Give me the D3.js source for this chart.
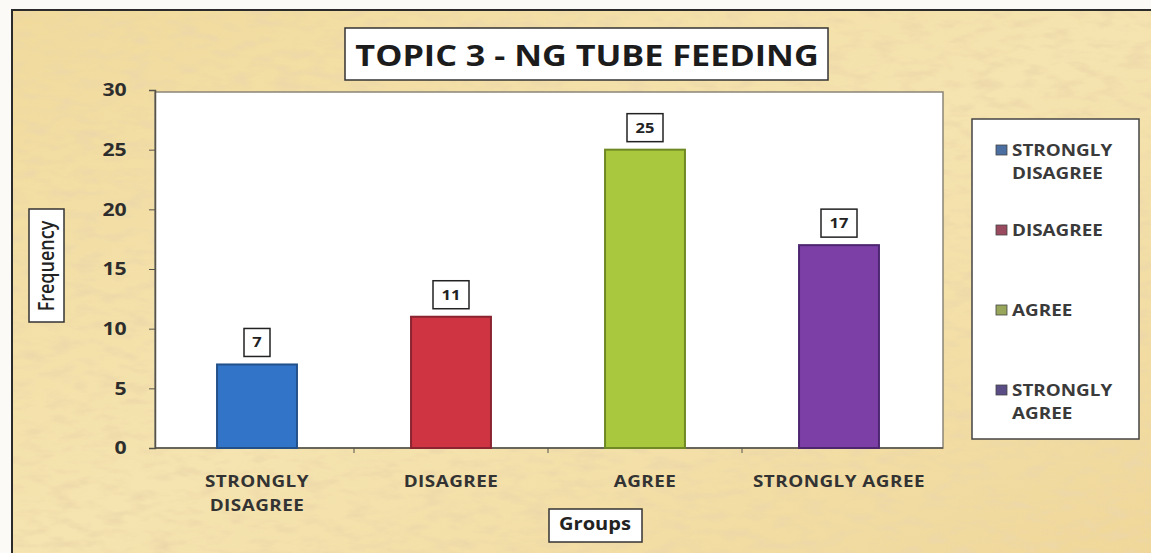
<!DOCTYPE html>
<html>
<head>
<meta charset="utf-8">
<script src="https://cdn.jsdelivr.net/npm/d3@7"></script>
<style>
  body { margin: 0; background: #fbfaf6; }
  svg { display: block; }
  text { font-family: "Open Sans", "DejaVu Sans", sans-serif; }
</style>
</head>
<body>
<svg id="chart" width="1151" height="553"></svg>
<script>
// data
const groups = ["STRONGLY DISAGREE", "DISAGREE", "AGREE", "STRONGLY AGREE"]
const tickLines = [["STRONGLY", "DISAGREE"], ["DISAGREE"], ["AGREE"], ["STRONGLY AGREE"]]
const legendLines = [["STRONGLY", "DISAGREE"], ["DISAGREE"], ["AGREE"], ["STRONGLY", "AGREE"]]
const frequency = [7, 11, 25, 17]
const yTicks = [0, 5, 10, 15, 20, 25, 30]
const barColors = ["#3275c8", "#cf3443", "#a9c83d", "#7b3fa6"]
const barEdges = ["#24508a", "#8a2430", "#6f8a25", "#4d2670"]
const swatchColors = ["#4a6fa0", "#9a4a5e", "#97a65a", "#5a4d86"]

//the photographed print is a bit stretched sideways, so the text is too
const stretch = 1.18

const svg = d3.select('#chart')

//parchment background with some grain
const defs = svg.append("defs")
const grad = defs.append("linearGradient").attr("id", "paper").attr("x1", 0).attr("x2", 1).attr("y1", 0).attr("y2", 1)
grad.append("stop").attr("offset", "0%").attr("stop-color", "#f1da9c")
grad.append("stop").attr("offset", "50%").attr("stop-color", "#f5e4b0")
grad.append("stop").attr("offset", "100%").attr("stop-color", "#f0d799")

const filt = defs.append("filter").attr("id", "grain").attr("x", 0).attr("y", 0).attr("width", "100%").attr("height", "100%")
filt.append("feTurbulence").attr("type", "fractalNoise").attr("baseFrequency", "0.04 0.1").attr("numOctaves", 3).attr("seed", 7).attr("result", "noise")
filt.append("feColorMatrix").attr("in", "noise").attr("type", "matrix")
  .attr("values", "0 0 0 0 0.84  0 0 0 0 0.68  0 0 0 0 0.40  2.2 0 0 0 -1.0").attr("result", "tint")
filt.append("feComposite").attr("in", "tint").attr("in2", "SourceGraphic").attr("operator", "in").attr("result", "tinted")
const merge = filt.append("feMerge")
merge.append("feMergeNode").attr("in", "SourceGraphic")
merge.append("feMergeNode").attr("in", "tinted")

svg.append("rect")
  .attr("x", 12).attr("y", 10).attr("width", 1150).attr("height", 550)
  .attr("fill", "url(#paper)").attr("filter", "url(#grain)")
svg.append("rect")
  .attr("x", 12).attr("y", 10).attr("width", 1150).attr("height", 550)
  .attr("fill", "none").attr("stroke", "#2b2b2b").attr("stroke-width", 2)

//helper for a stretched text
function label(parent, cx, cy, size, weight, anchor){
  return parent.append("text")
    .attr("transform", "translate(" + cx + "," + cy + ") scale(" + stretch + ",1)")
    .attr("text-anchor", anchor).attr("dy", "0.35em")
    .attr("font-size", size).attr("font-weight", weight)
}

//scales
const x = d3.scaleBand().domain(groups).range([160, 936]).paddingInner(0.588).paddingOuter(0.294)
const y = d3.scaleLinear().domain([0, 30]).range([448, 90])

//plot area
svg.append("rect")
  .attr("x", 155).attr("y", y(30) + 2).attr("width", 943 - 155).attr("height", y(0) - y(30) - 2)
  .attr("fill", "#ffffff").attr("stroke", "#8a8578").attr("stroke-width", 1.5)

//y axis
const yAxis = svg.append("g").attr("transform", "translate(155,0)")
  .call(d3.axisLeft(y).tickValues(yTicks).tickSize(6).tickPadding(18))
yAxis.select(".domain").attr("stroke", "#55524a").attr("stroke-width", 1.5)
yAxis.selectAll(".tick line").attr("stroke", "#55524a")
yAxis.selectAll(".tick text")
  .attr("x", -24).attr("transform", "scale(" + stretch + ",1)")
  .attr("font-size", 18).attr("font-weight", 700).attr("fill", "#2d2d2d")
  .attr("font-family", "'Open Sans', sans-serif")

//x axis line and ticks between categories
const xAxis = svg.append("g").attr("transform", "translate(0," + y(0) + ")")
xAxis.append("line").attr("x1", 155).attr("x2", 943).attr("stroke", "#55524a").attr("stroke-width", 1.5)
const step = x.step()
const bounds = groups.slice(1).map(g => x(g) - x.paddingInner() * step / 2)
xAxis.selectAll(".sep").data(bounds).join("line")
  .attr("x1", d => d).attr("x2", d => d).attr("y1", 0).attr("y2", 5)
  .attr("stroke", "#55524a")

//category labels
groups.forEach(function(g, i){
  const t = label(svg, x(g) + x.bandwidth() / 2, 481, 16, 700, "middle").attr("fill", "#333")
    .attr("letter-spacing", 0.4)
  tickLines[i].forEach(function(line, j){
    t.append("tspan").attr("x", 0).attr("dy", j === 0 ? "0.35em" : 24).text(line)
  })
})

//bars
svg.selectAll(".bar").data(frequency).join("rect")
  .attr("class", "bar")
  .attr("x", (d, i) => x(groups[i]))
  .attr("y", d => y(d))
  .attr("width", x.bandwidth())
  .attr("height", d => y(0) - y(d))
  .attr("fill", (d, i) => barColors[i])
  .attr("stroke", (d, i) => barEdges[i])
  .attr("stroke-width", 2)

//value labels in little boxes
const lab = svg.selectAll(".lab").data(frequency).join("g").attr("class", "lab")
  .attr("transform", (d, i) => "translate(" + (x(groups[i]) + x.bandwidth() / 2) + "," + (y(d) - 22) + ")")
lab.append("rect")
  .attr("x", d => d >= 10 ? -18 : -13).attr("y", -14)
  .attr("width", d => d >= 10 ? 36 : 26).attr("height", 28)
  .attr("fill", "#fff").attr("stroke", "#222").attr("stroke-width", 1.5)
lab.each(function(d){
  label(d3.select(this), 0, 0, 14, 700, "middle").attr("fill", "#222").text(d)
})

//title
svg.append("rect").attr("x", 345).attr("y", 28).attr("width", 483).attr("height", 52)
  .attr("fill", "#fff").attr("stroke", "#333").attr("stroke-width", 1.5)
label(svg, 587, 56, 29, 700, "middle").attr("fill", "#1c1c1c").text("TOPIC 3 - NG TUBE FEEDING")

//y axis title
svg.append("rect").attr("x", 29).attr("y", 209).attr("width", 35).attr("height", 113)
  .attr("fill", "#fff").attr("stroke", "#333").attr("stroke-width", 1.5)
svg.append("text").attr("transform", "translate(47,266) scale(" + stretch + ",1) rotate(-90)")
  .attr("text-anchor", "middle").attr("dy", "0.35em")
  .attr("font-size", 18).attr("font-weight", 600).attr("fill", "#222")
  .text("Frequency")

//x axis title
svg.append("rect").attr("x", 549).attr("y", 509).attr("width", 93).attr("height", 33)
  .attr("fill", "#fff").attr("stroke", "#333").attr("stroke-width", 1.5)
label(svg, 595, 524, 17, 700, "middle").attr("fill", "#222").text("Groups")

//legend
svg.append("rect").attr("x", 972).attr("y", 119).attr("width", 167).attr("height", 320)
  .attr("fill", "#fff").attr("stroke", "#444").attr("stroke-width", 1.5)
const legY = [150, 230, 310, 390]
const leg = svg.selectAll(".leg").data(groups).join("g").attr("class", "leg")
  .attr("transform", (d, i) => "translate(996," + legY[i] + ")")
leg.append("rect").attr("x", 0).attr("y", -5).attr("width", 11).attr("height", 10)
  .attr("fill", (d, i) => swatchColors[i]).attr("stroke", "#444").attr("stroke-width", 0.8)
leg.each(function(d, i){
  const t = label(d3.select(this), 16, 0, 16, 700, "start").attr("fill", "#3a3a3a")
  legendLines[i].forEach(function(line, j){
    t.append("tspan").attr("x", 0).attr("dy", j === 0 ? "0.35em" : 23).text(line)
  })
})
</script>
</body>
</html>
